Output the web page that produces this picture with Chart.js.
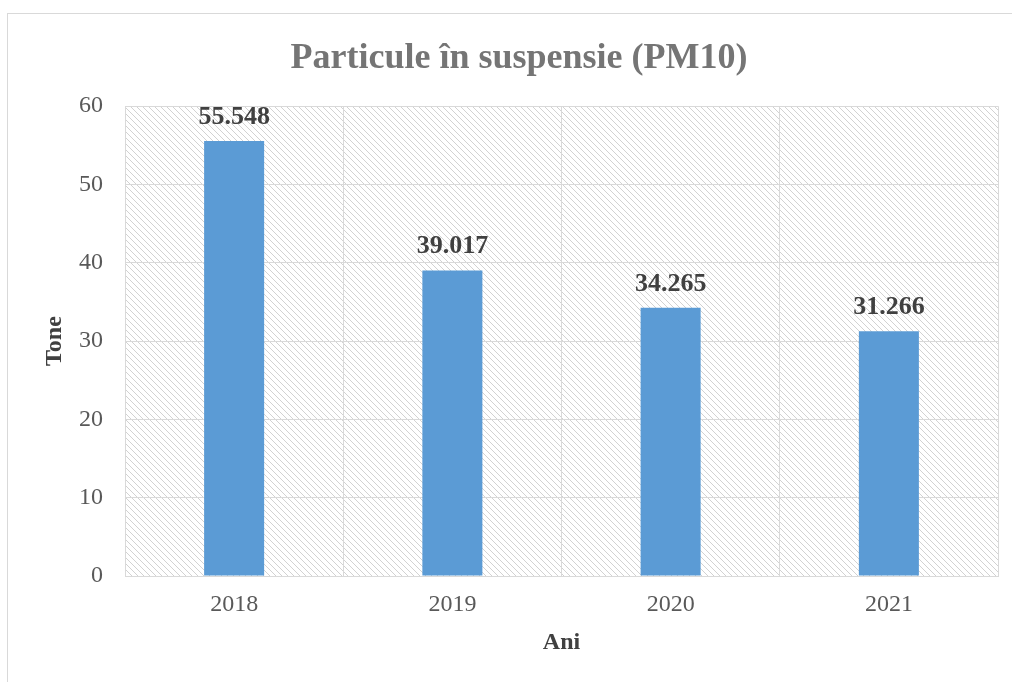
<!DOCTYPE html>
<html>
<head>
<meta charset="utf-8">
<title>Particule în suspensie (PM10)</title>
<script src="https://cdn.jsdelivr.net/npm/chart.js@4/dist/chart.umd.min.js"></script>
<style>
  html, body { margin: 0; padding: 0; background: #fff; }
  #wrap { width: 1012px; height: 682px; }
</style>
</head>
<body>
<div id="wrap"><canvas id="pm10Chart" width="1012" height="682"></canvas></div>
<script>
// date
const ani = ['2018', '2019', '2020', '2021'];
const tone = [55.548, 39.017, 34.265, 31.266];
const yTicks = [0, 10, 20, 30, 40, 50, 60];

const SERIF = "'Liberation Serif', 'Times New Roman', serif";

// fundal hasurat
function makeHatch() {
  const s = 6;
  const c = document.createElement('canvas');
  c.width = s; c.height = s;
  const x = c.getContext('2d');
  x.fillStyle = '#fff';
  x.fillRect(0, 0, s, s);
  x.strokeStyle = '#d2d2d2';
  x.lineWidth = 1;
  x.beginPath();
  x.moveTo(-1, -1); x.lineTo(s + 1, s + 1);
  x.moveTo(-1, s - 1); x.lineTo(1, s + 1);
  x.moveTo(s - 1, -1); x.lineTo(s + 1, 1);
  x.stroke();
  return c;
}

const bgPlugin = {
  id: 'bgPlugin',
  beforeDraw(chart) {
    const { ctx, chartArea: a } = chart;
    ctx.save();
    ctx.fillStyle = '#fff';
    ctx.fillRect(0, 0, chart.width, chart.height);
    ctx.strokeStyle = '#d9d9d9';
    ctx.lineWidth = 1;
    ctx.strokeRect(7.5, 13.5, chart.width + 20, chart.height + 20);
    ctx.fillStyle = ctx.createPattern(makeHatch(), 'repeat');
    ctx.fillRect(a.left, a.top, a.right - a.left, a.bottom - a.top);
    ctx.restore();
  }
};

const labelPlugin = {
  id: 'labelPlugin',
  afterDatasetsDraw(chart) {
    const { ctx } = chart;
    const meta = chart.getDatasetMeta(0);
    ctx.save();
    ctx.font = 'bold 26px ' + SERIF;
    ctx.fillStyle = '#404040';
    ctx.textAlign = 'center';
    ctx.textBaseline = 'alphabetic';
    meta.data.forEach((bar, i) => {
      ctx.fillText(tone[i].toFixed(3), bar.x, bar.y - 17);
    });
    ctx.restore();
  }
};

new Chart(document.getElementById('pm10Chart'), {
  type: 'bar',
  data: {
    labels: ani,
    datasets: [{
      data: tone,
      backgroundColor: '#5b9bd5',
      borderWidth: 0,
      barPercentage: 0.275,
      categoryPercentage: 1
    }]
  },
  options: {
    responsive: false,
    animation: false,
    layout: { padding: { top: 37, left: 40, right: 14, bottom: 25 } },
    plugins: {
      legend: { display: false },
      tooltip: { enabled: false },
      title: {
        display: true,
        text: 'Particule în suspensie (PM10)',
        color: '#757575',
        font: { family: SERIF, size: 36, weight: 'bold' },
        padding: { top: 0, bottom: 26 }
      }
    },
    scales: {
      x: {
        afterFit(scale) { scale.height = 81; },
        grid: { color: '#d9d9d9', drawTicks: false, offset: true },
        border: { color: '#d9d9d9' },
        ticks: { color: '#595959', font: { family: SERIF, size: 24 }, padding: 14 },
        title: {
          display: true,
          text: 'Ani',
          color: '#404040',
          font: { family: SERIF, size: 24, weight: 'bold' },
          padding: { top: 9, bottom: 0 }
        }
      },
      y: {
        min: 0,
        max: 60,
        afterFit(scale) { scale.width = 85; },
        afterBuildTicks(scale) { scale.ticks = yTicks.map(v => ({ value: v })); },
        grid: { color: '#d9d9d9', drawTicks: false },
        border: { color: '#d9d9d9' },
        ticks: { color: '#595959', font: { family: SERIF, size: 24 }, padding: 22 },
        title: {
          display: true,
          text: 'Tone',
          color: '#404040',
          font: { family: SERIF, size: 24, weight: 'bold' },
          padding: { top: 0, bottom: 10 }
        }
      }
    }
  },
  plugins: [bgPlugin, labelPlugin]
});
</script>
</body>
</html>
